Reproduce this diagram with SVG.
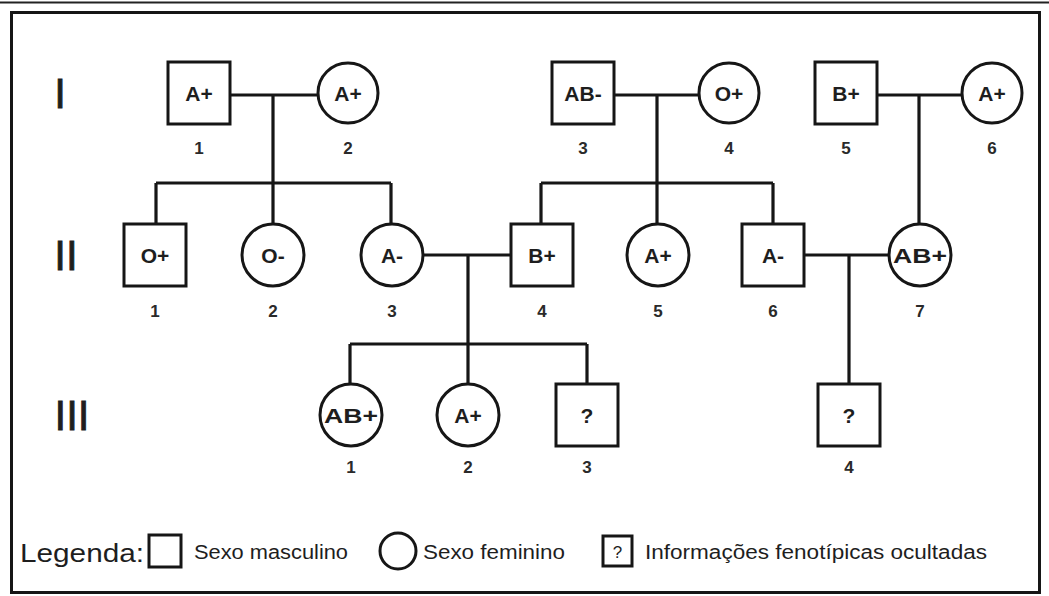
<svg xmlns="http://www.w3.org/2000/svg" width="1049" height="596" viewBox="0 0 1049 596">
<style>
.sq,.ci{fill:#fff;stroke:#161616;stroke-width:3}
.ln{stroke:#161616;stroke-width:3.2;fill:none}
.t{font-family:"Liberation Sans",Arial,sans-serif;font-weight:bold;font-size:21px;fill:#1e1e1e;text-anchor:middle}
.n{font-family:"Liberation Sans",Arial,sans-serif;font-weight:bold;font-size:17px;fill:#2a2a2a;text-anchor:middle}
.g{font-family:"Liberation Sans",Arial,sans-serif;font-size:42px;fill:#1e1e1e;text-anchor:middle;stroke:#1e1e1e;stroke-width:0.8}
.lg{font-family:"Liberation Sans",Arial,sans-serif;fill:#1e1e1e}
</style>
<rect width="1049" height="596" fill="#fff"/>
<line x1="0" y1="2.5" x2="1049" y2="2.5" stroke="#222" stroke-width="2"/>
<rect x="11.5" y="12.5" width="1028" height="580" fill="none" stroke="#161616" stroke-width="3"/>
<g id="generations">
<text class="g" x="60" y="108">I</text>
<text class="g" x="66" y="270">II</text>
<text class="g" x="72" y="430">III</text>
</g>
<g id="connectors">
<path class="ln" d="M230 95H318M273 95V183M156 183H391M156 183V224M273 183V224M391 183V224"/>
<path class="ln" d="M614 95H699M657 95V183M541 183H773M541 183V224M657 183V224M773 183V224"/>
<path class="ln" d="M877 95H962M919 95V224"/>
<path class="ln" d="M423 255H511M468 255V344M350 344H587M350 344V384M468 344V384M587 344V384"/>
<path class="ln" d="M804 255H889M849 255V384"/>
</g>
<g id="I-1"><rect class="sq" x="168" y="62" width="62" height="62"/><text class="t" x="199" y="101">A+</text><text class="n" x="199" y="154">1</text></g>
<g id="I-2"><circle class="ci" cx="348" cy="93" r="30"/><text class="t" x="348" y="101">A+</text><text class="n" x="348" y="154">2</text></g>
<g id="I-3"><rect class="sq" x="552" y="62" width="62" height="62"/><text class="t" x="583" y="101">AB-</text><text class="n" x="583" y="154">3</text></g>
<g id="I-4"><circle class="ci" cx="729" cy="93" r="30"/><text class="t" x="729" y="101">O+</text><text class="n" x="729" y="154">4</text></g>
<g id="I-5"><rect class="sq" x="815" y="62" width="62" height="62"/><text class="t" x="846" y="101">B+</text><text class="n" x="846" y="154">5</text></g>
<g id="I-6"><circle class="ci" cx="992" cy="93" r="30"/><text class="t" x="992" y="101">A+</text><text class="n" x="992" y="154">6</text></g>
<g id="II-1"><rect class="sq" x="124" y="224" width="62" height="62"/><text class="t" x="155" y="263">O+</text><text class="n" x="155" y="317">1</text></g>
<g id="II-2"><circle class="ci" cx="273" cy="255" r="31"/><text class="t" x="273" y="263">O-</text><text class="n" x="273" y="317">2</text></g>
<g id="II-3"><circle class="ci" cx="392" cy="255" r="31"/><text class="t" x="392" y="263">A-</text><text class="n" x="392" y="317">3</text></g>
<g id="II-4"><rect class="sq" x="511" y="224" width="62" height="62"/><text class="t" x="542" y="263">B+</text><text class="n" x="542" y="317">4</text></g>
<g id="II-5"><circle class="ci" cx="658" cy="255" r="31"/><text class="t" x="658" y="263">A+</text><text class="n" x="658" y="317">5</text></g>
<g id="II-6"><rect class="sq" x="742" y="224" width="62" height="62"/><text class="t" x="773" y="263">A-</text><text class="n" x="773" y="317">6</text></g>
<g id="II-7"><circle class="ci" cx="920" cy="255" r="31"/><text class="t" x="920" y="263" textLength="54" lengthAdjust="spacingAndGlyphs">AB+</text><text class="n" x="920" y="317">7</text></g>
<g id="III-1"><circle class="ci" cx="351" cy="415" r="31"/><text class="t" x="351" y="423" textLength="54" lengthAdjust="spacingAndGlyphs">AB+</text><text class="n" x="351" y="473">1</text></g>
<g id="III-2"><circle class="ci" cx="468" cy="415" r="31"/><text class="t" x="468" y="423">A+</text><text class="n" x="468" y="473">2</text></g>
<g id="III-3"><rect class="sq" x="556" y="384" width="62" height="62"/><text class="t" x="587" y="423">?</text><text class="n" x="587" y="473">3</text></g>
<g id="III-4"><rect class="sq" x="818" y="384" width="62" height="62"/><text class="t" x="849" y="423">?</text><text class="n" x="849" y="473">4</text></g>
<g id="legend">
<text class="lg" x="20" y="562" font-size="26" textLength="124" lengthAdjust="spacingAndGlyphs">Legenda:</text>
<rect class="sq" x="149" y="535" width="32" height="32" stroke-width="2.5"/>
<text class="lg" x="194" y="559" font-size="20" textLength="154" lengthAdjust="spacingAndGlyphs">Sexo masculino</text>
<circle class="ci" cx="398" cy="551" r="18" stroke-width="2.5"/>
<text class="lg" x="423" y="559" font-size="20" textLength="142" lengthAdjust="spacingAndGlyphs">Sexo feminino</text>
<rect class="sq" x="603" y="536" width="29" height="30" stroke-width="2.5"/>
<text class="lg" x="617.5" y="558" font-size="17" text-anchor="middle">?</text>
<text class="lg" x="645" y="559" font-size="20" textLength="342" lengthAdjust="spacingAndGlyphs">Informações fenotípicas ocultadas</text>
</g>
</svg>
